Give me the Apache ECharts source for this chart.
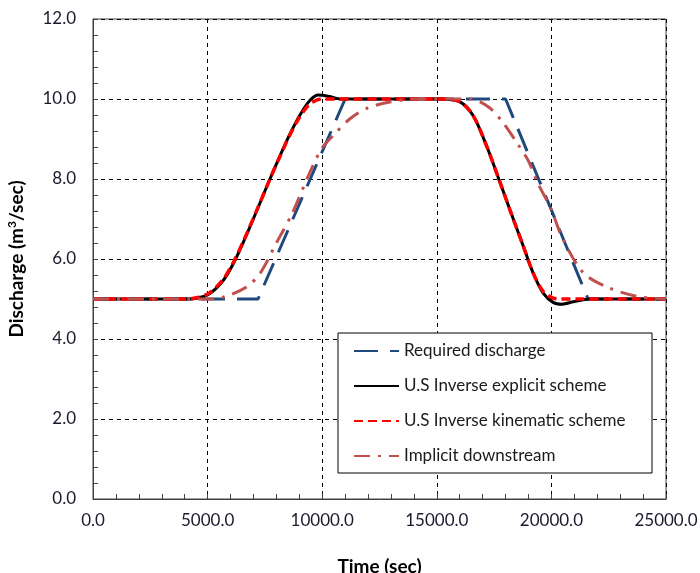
<!DOCTYPE html>
<html>
<head>
<meta charset="utf-8">
<script src="https://cdn.jsdelivr.net/npm/echarts@6/dist/echarts.min.js"></script>
<style>html,body{margin:0;padding:0;background:#fff;}#c{width:700px;height:573px;}</style>
</head>
<body>
<div id="c"></div>
<script>
// Required discharge
var reqTime = [0, 7200, 11000, 18000, 21600, 25000];
var reqQ    = [5, 5, 10, 10, 5, 5];
// U.S Inverse explicit scheme
var expTime = [0, 4000, 4520, 5100, 5690, 6120, 6560, 7140, 7720, 8160, 8590, 9030, 9470, 9830, 10340, 10780, 15140, 16010, 16590, 17170, 17680, 18190, 18780, 19210, 19650, 20090, 20450, 20960, 21680, 25000];
var expQ    = [5, 5, 5.02, 5.14, 5.47, 5.88, 6.42, 7.2, 8.0, 8.58, 9.12, 9.6, 9.97, 10.1, 10.06, 10.0, 10.0, 9.93, 9.58, 8.83, 8.04, 7.23, 6.31, 5.64, 5.14, 4.91, 4.87, 4.93, 5.0, 5.0];
// U.S Inverse kinematic scheme
var kinTime = [0, 4000, 4520, 5100, 5690, 6120, 6560, 7140, 7720, 8160, 8590, 9030, 9470, 9980, 15140, 16010, 16590, 17170, 17680, 18190, 18780, 19210, 19650, 20050, 20400, 25000];
var kinQ    = [5, 5, 5.03, 5.16, 5.5, 5.91, 6.44, 7.21, 8.0, 8.57, 9.1, 9.56, 9.88, 10.0, 10.0, 9.93, 9.58, 8.83, 8.04, 7.23, 6.31, 5.64, 5.18, 5.03, 5.0, 5.0];
// Implicit downstream
var impTime = [0, 5000, 5700, 6700, 7300, 8000, 8700, 9450, 10000, 10500, 11200, 12000, 13000, 14000, 16500, 17300, 17900, 18500, 19000, 19400, 19950, 20500, 21400, 22500, 23800, 25000];
var impQ    = [5, 5, 5.05, 5.3, 5.65, 6.4, 7.15, 8.15, 8.78, 9.1, 9.5, 9.78, 9.93, 10.0, 10.0, 9.78, 9.4, 8.9, 8.45, 7.9, 7.3, 6.5, 5.65, 5.28, 5.06, 5.0];
// Axis ticks
var xTicks = {min: 0, max: 25000, interval: 5000};
var yTicks = {min: 0, max: 12, interval: 2};
var seriesNames = ['Required discharge', 'U.S Inverse explicit scheme', 'U.S Inverse kinematic scheme', 'Implicit downstream'];

function pairs(t, q) { return t.map(function (v, i) { return [v, q[i]]; }); }

var chart = echarts.init(document.getElementById('c'), null, {renderer: 'canvas'});
var font = 'Lato, "Open Sans", sans-serif';
chart.setOption({
  animation: false,
  backgroundColor: '#fff',
  grid: {left: 93, right: 34, top: 19, bottom: 74, containLabel: false, outerBoundsMode: 'none',
         show: true, borderColor: '#404040', borderWidth: 1},
  xAxis: {
    type: 'value', min: xTicks.min, max: xTicks.max, interval: xTicks.interval,
    name: 'Time (sec)', nameLocation: 'middle', nameGap: 58,
    nameTextStyle: {fontFamily: font, fontWeight: 'bold', fontSize: 19, color: '#000'},
    axisLine: {lineStyle: {color: '#404040', width: 1}},
    axisTick: {show: true, inside: true, length: 5, lineStyle: {color: '#404040'}},
    minorTick: {show: true, splitNumber: 5, length: 5, lineStyle: {color: '#404040'}},
    axisLabel: {margin: 13, fontFamily: font, fontSize: 17, color: '#1a1a2e', formatter: function (v) { return v.toFixed(1); }},
    splitLine: {show: true, lineStyle: {color: '#000', type: [4, 4], width: 1}}
  },
  yAxis: {
    type: 'value', min: yTicks.min, max: yTicks.max, interval: yTicks.interval,
    name: '{a|Discharge (m}{s|3}{a|/sec)}', nameLocation: 'middle', nameGap: 66,
    nameTextStyle: {rich: {
      a: {fontFamily: font, fontWeight: 'bold', fontSize: 19, color: '#000'},
      s: {fontFamily: font, fontWeight: 'bold', fontSize: 12, color: '#000', verticalAlign: 'top', padding: [0, 0, 9, 0]}
    }},
    axisLine: {show: true, lineStyle: {color: '#404040', width: 1}},
    axisTick: {show: true, inside: true, length: 5, lineStyle: {color: '#404040'}},
    minorTick: {show: true, splitNumber: 5, length: 5, lineStyle: {color: '#404040'}},
    axisLabel: {margin: 17, fontFamily: font, fontSize: 17, color: '#1a1a2e', formatter: function (v) { return v.toFixed(1); }},
    splitLine: {show: true, lineStyle: {color: '#000', type: [4, 4], width: 1}}
  },
  legend: {
    left: 338, top: 333, orient: 'vertical',
    backgroundColor: '#fff', borderColor: '#000', borderWidth: 1,
    padding: [8, 18, 7, 15], itemGap: 15, itemWidth: 45, itemHeight: 14,
    itemStyle: {opacity: 0},
    textStyle: {fontFamily: font, fontSize: 17, color: '#1a1a1a', width: 230, height: 20, lineHeight: 20},
    data: seriesNames
  },
  series: [
    {name: seriesNames[0], type: 'line', symbol: 'none', data: pairs(reqTime, reqQ),
     lineStyle: {color: '#1F497D', width: 3, type: [24, 12]}, itemStyle: {color: '#1F497D'}},
    {name: seriesNames[1], type: 'line', symbol: 'none', smooth: 0.3, data: pairs(expTime, expQ),
     lineStyle: {color: '#000', width: 3, type: 'solid'}, itemStyle: {color: '#000'}},
    {name: seriesNames[2], type: 'line', symbol: 'none', smooth: 0.3, data: pairs(kinTime, kinQ),
     lineStyle: {color: '#FF0000', width: 3.5, type: [9, 5]}, itemStyle: {color: '#FF0000'}},
    {name: seriesNames[3], type: 'line', symbol: 'none', smooth: 0.3, data: pairs(impTime, impQ),
     lineStyle: {color: '#C0504D', width: 3, type: [16, 8, 3, 8]}, itemStyle: {color: '#C0504D'}}
  ]
});
</script>
</body>
</html>
